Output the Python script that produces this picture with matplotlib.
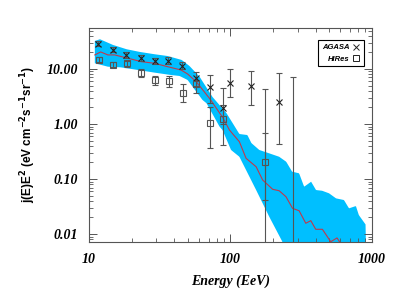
import numpy as np
import matplotlib
matplotlib.use("Agg")
from matplotlib import pyplot as plt
from matplotlib.lines import Line2D
from matplotlib.ticker import FixedLocator, LogLocator, NullFormatter

# AGASA points: energy (EeV), flux, lower / upper error bounds
agasa_E = [11.6, 14.8, 18.3, 23.2, 29.3, 36.3, 45.2, 57, 71.7, 89, 99, 139, 222]
agasa_v = [29.0, 22.4, 17.9, 16.0, 14.1, 14.1, 11.5, 6.8, 4.65, 1.98, 5.5, 4.9, 2.54]
agasa_lo = [26.3, 20.4, 16.0, 14.2, 12.4, 12.3, 9.8, 5.0, 2.45, 1.0, 3.1, 2.18, 0.43]
agasa_hi = [32.0, 24.6, 20.0, 18.0, 16.0, 16.2, 13.4, 8.9, 7.8, 4.45, 9.9, 9.3, 8.3]
# AGASA bins with only an upper bound on the plot
agasa_ul_E = [177, 277]
agasa_ul = [4.3, 7.06]

# HiRes points
hires_E = [11.8, 14.8, 18.6, 23.3, 29.3, 36.6, 46, 57, 71.7, 89, 177]
hires_v = [14.8, 12.0, 12.6, 8.45, 6.3, 6.05, 3.66, 5.3, 1.06, 1.21, 0.204]
hires_lo = [13.2, 10.8, 11.0, 7.2, 5.1, 4.8, 2.54, 3.7, 0.36, 0.41, 0.041]
hires_hi = [16.5, 13.3, 14.2, 9.9, 7.6, 7.5, 5.27, 6.3, 2.0, 2.2, 0.68]

# model band (upper / lower) and central curve
up_E = [11.0, 11.96, 14.8, 18.5, 22.9, 29.2, 36.0, 45.2, 51.4, 60.5, 74.7, 93.7, 115.7,
        131.8, 140.7, 160, 188, 221, 248, 273, 306, 332, 372, 403, 445, 498, 558, 635,
        689, 771, 809, 908, 912]
up_v = [32.3, 34.7, 27.3, 22.8, 20.4, 18.5, 17.2, 14.6, 11.3, 7.24, 3.1, 1.58, 0.658,
        0.63, 0.45, 0.337, 0.293, 0.254, 0.206, 0.136, 0.127, 0.0724, 0.0893, 0.063,
        0.0612, 0.055, 0.0445, 0.0415, 0.0293, 0.0323, 0.0221, 0.0146, 0.004]
lo_E = [11.0, 13.6, 16.8, 22.1, 29.2, 37.8, 43.7, 49.8, 54, 63.5, 67.8, 83.8, 87.9, 101,
        115.7, 152, 188, 233, 260]
lo_v = [12.7, 11.0, 10.7, 9.6, 8.57, 7.78, 7.46, 6.31, 4.77, 2.73, 2.38, 0.893, 0.778,
        0.337, 0.254, 0.063, 0.0207, 0.00724, 0.003]
mid_E = [11.0, 12.1, 13.6, 15.2, 18.8, 23.4, 29.0, 36.0, 44.7, 49.8, 57.3, 71.1, 88.3,
         98.4, 115.7, 129, 152, 169, 199, 221, 247, 275, 306, 341, 370, 401, 447, 512,
         567, 635]
mid_v = [18.0, 20.4, 18.0, 18.0, 15.7, 13.6, 12.7, 11.0, 9.6, 8.11, 5.87, 2.93, 1.31,
         0.778, 0.476, 0.238, 0.167, 0.096, 0.065, 0.0613, 0.0477, 0.0293, 0.0265,
         0.0157, 0.0175, 0.0122, 0.0122, 0.00724, 0.0085, 0.0055]

serif = "Liberation Serif"
sans = "Liberation Sans"
grey = "#555555"

fig = plt.figure(figsize=(3.99, 2.99), dpi=100)
ax = fig.add_axes([0.223, 0.191, 0.709, 0.716])

# band: interpolate both edges on a common log grid
grid = np.logspace(np.log10(11.0), np.log10(912), 400)
upper = 10 ** np.interp(np.log10(grid), np.log10(up_E), np.log10(up_v))
lower = 10 ** np.interp(np.log10(grid), np.log10(lo_E), np.log10(lo_v), right=-4)
ax.fill_between(grid, lower, upper, color="#00bfff", lw=0, zorder=1)
ax.plot(mid_E, mid_v, color="#c0394b", lw=0.8, zorder=2)

ax.errorbar(agasa_E, agasa_v,
            yerr=[np.subtract(agasa_v, agasa_lo), np.subtract(agasa_hi, agasa_v)],
            fmt="x", ms=4, mec="#222222", mew=0.8, ecolor=grey, elinewidth=0.8,
            capsize=2, capthick=0.8, zorder=3)
ax.errorbar(agasa_ul_E, agasa_ul,
            yerr=[np.subtract(agasa_ul, 1e-4), [0, 0]],
            fmt="none", ecolor=grey, elinewidth=0.8, capsize=2, capthick=0.8, zorder=3)
ax.errorbar(hires_E, hires_v,
            yerr=[np.subtract(hires_v, hires_lo), np.subtract(hires_hi, hires_v)],
            fmt="s", ms=5, mfc="none", mec=grey, mew=0.8, ecolor=grey, elinewidth=0.8,
            capsize=2, capthick=0.8, zorder=3)

ax.set_xscale("log")
ax.set_yscale("log")
ax.set_xlim(10, 1000)
ax.set_ylim(0.0072, 56)

ax.xaxis.set_major_locator(FixedLocator([10, 100, 1000]))
ax.xaxis.set_minor_locator(LogLocator(base=10, subs=np.arange(2, 10)))
ax.xaxis.set_minor_formatter(NullFormatter())
ax.set_xticklabels(["10", "100", "1000"])
ax.yaxis.set_major_locator(FixedLocator([0.01, 0.1, 1, 10]))
ax.yaxis.set_minor_locator(LogLocator(base=10, subs=np.arange(2, 10)))
ax.yaxis.set_minor_formatter(NullFormatter())
ax.set_yticklabels(["0.01", "0.10", "1.00", "10.00"])

ax.tick_params(which="both", direction="in", top=True, right=True, color=grey)
ax.tick_params(which="major", length=6, width=0.7, pad=8)
ax.tick_params(which="minor", length=3, width=0.6)
for lab in ax.get_xticklabels() + ax.get_yticklabels():
    lab.set_fontfamily(serif)
    lab.set_fontweight("bold")
    lab.set_fontstyle("italic")
    lab.set_fontsize(10)
for sp in ax.spines.values():
    sp.set_color(grey)
    sp.set_linewidth(0.8)

ax.set_xlabel("Energy (EeV)", family=serif, weight="bold", style="italic",
              fontsize=10, labelpad=6)
ax.set_ylabel(r"j(E)E$^\mathbf{2}$ (eV cm$^\mathbf{-2}$s$^\mathbf{-1}$sr$^\mathbf{-1}$)",
              family=sans, weight="bold", fontsize=8.5, labelpad=6)

handles = [Line2D([], [], ls="none", marker="x", ms=4, mec="#222222", mew=0.7),
           Line2D([], [], ls="none", marker="s", ms=4, mfc="none", mec="#222222", mew=0.7)]
leg = ax.legend(handles, ["AGASA", "HiRes"], loc="upper right", markerfirst=False,
                prop={"family": sans, "weight": "bold", "style": "italic", "size": 5.5},
                fancybox=False, framealpha=1, edgecolor="black", handlelength=1,
                handletextpad=0.4, borderpad=0.5, labelspacing=0.5,
                bbox_to_anchor=(0.985, 0.96))
leg.get_frame().set_linewidth(0.8)
for t in leg.get_texts():
    t.set_ha("right")

fig.savefig("out.png", dpi=100)
